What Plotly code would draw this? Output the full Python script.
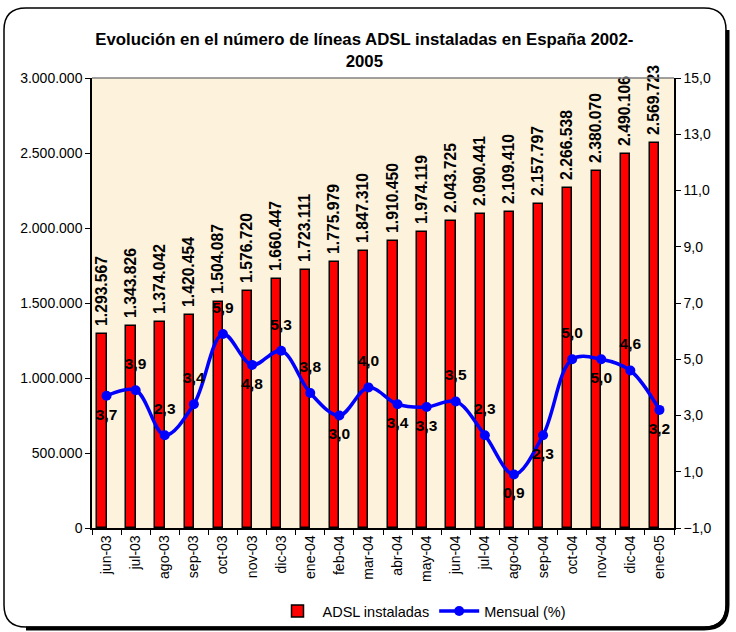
import plotly.graph_objects as go

# ---- data ----
meses = ["jun-03", "jul-03", "ago-03", "sep-03", "oct-03", "nov-03", "dic-03",
         "ene-04", "feb-04", "mar-04", "abr-04", "may-04", "jun-04", "jul-04",
         "ago-04", "sep-04", "oct-04", "nov-04", "dic-04", "ene-05"]
adsl_instaladas = [1293567, 1343826, 1374042, 1420454, 1504087, 1576720, 1660447,
                   1723111, 1775979, 1847310, 1910450, 1974119, 2043725, 2090441,
                   2109410, 2157797, 2266538, 2380070, 2490106, 2569723]
mensual_pct = [3.7, 3.9, 2.3, 3.4, 5.9, 4.8, 5.3, 3.8, 3.0, 4.0, 3.4, 3.3, 3.5, 2.3,
               0.9, 2.3, 5.0, 5.0, 4.6, 3.2]
posicion_etiqueta = ["bottom center", "top center", "top center", "top center", "top center",
                     "bottom center", "top center", "top center", "bottom center", "top center",
                     "bottom center", "bottom center", "top center", "top center", "bottom center",
                     "bottom center", "top center", "bottom center", "top center", "bottom center"]
left_ticks = [0, 500000, 1000000, 1500000, 2000000, 2500000, 3000000]
right_ticks = [-1, 1, 3, 5, 7, 9, 11, 13, 15]

W, H = 736, 632
L, R, T, B = 92, 62, 78, 104
PW, PH = W - L - R, H - T - B
FONT = "Arial, Liberation Sans, sans-serif"


def px(x):
    return (x - L) / PW


def py(y):
    return (H - B - y) / PH


fig = go.Figure()

fig.add_trace(go.Bar(
    x=meses, y=adsl_instaladas, name="ADSL instaladas",
    marker=dict(color="#FF0000", line=dict(color="black", width=1.5)),
    width=0.32, offset=-0.32,
    texttemplate="\u00a0%{y:,.0f}", textposition="outside", textangle=-90,
    constraintext="none", cliponaxis=False,
    textfont=dict(family=FONT, size=15.7, color="black", weight="bold"),
    yaxis="y",
))

fig.add_trace(go.Scatter(
    x=meses, y=mensual_pct, name="Mensual (%)", yaxis="y2",
    mode="lines+markers",
    line=dict(color="#0000FF", width=3.5, shape="spline", smoothing=1.0),
    marker=dict(color="#0000FF", size=10),
    cliponaxis=False,
))

# labels of the line (invisible markers to push text away from the points)
label_sizes = [26 if p.startswith("top") else 18 for p in posicion_etiqueta]
fig.add_trace(go.Scatter(
    x=meses, y=mensual_pct, yaxis="y2", mode="markers+text", showlegend=False,
    marker=dict(color="#0000FF", size=label_sizes, opacity=0, line=dict(width=0)),
    texttemplate="%{y:.1f}", textposition=posicion_etiqueta, cliponaxis=False,
    textfont=dict(family=FONT, size=15.5, color="black", weight="bold"),
    hoverinfo="skip",
))


def rounded(x0, y0, x1, y1, r):
    return (f"M {px(x0 + r)} {py(y0)} L {px(x1 - r)} {py(y0)} "
            f"Q {px(x1)} {py(y0)} {px(x1)} {py(y0 + r)} "
            f"L {px(x1)} {py(y1 - r)} Q {px(x1)} {py(y1)} {px(x1 - r)} {py(y1)} "
            f"L {px(x0 + r)} {py(y1)} Q {px(x0)} {py(y1)} {px(x0)} {py(y1 - r)} "
            f"L {px(x0)} {py(y0 + r)} Q {px(x0)} {py(y0)} {px(x0 + r)} {py(y0)} Z")


def shadow(x0, y0, x1, y1, r, d):
    return (f"M {px(x1 + d)} {py(y0 + r)} L {px(x1 + d)} {py(y1 - r)} "
            f"Q {px(x1 + d)} {py(y1 + d)} {px(x1 - r)} {py(y1 + d)} "
            f"L {px(x0 + r)} {py(y1 + d)}")


shapes = [
    dict(type="path", xref="paper", yref="paper", path=shadow(4, 8, 726, 627, 22, 1.5),
         line=dict(color="black", width=4), layer="below"),
    dict(type="path", xref="paper", yref="paper", path=rounded(4, 8, 726, 627, 22),
         line=dict(color="black", width=1.5), fillcolor="rgba(0,0,0,0)", layer="below"),
    dict(type="line", xref="paper", yref="paper", x0=0, x1=1, y0=1, y1=1,
         line=dict(color="#808080", width=1.5)),
]

fig.update_layout(
    width=W, height=H,
    margin=dict(l=L, r=R, t=T, b=B),
    paper_bgcolor="white",
    plot_bgcolor="#FDF2DB",
    separators=",.",
    font=dict(family=FONT, size=14, color="black"),
    title=dict(text="Evolución en el número de líneas ADSL instaladas en España 2002-<br>2005",
               x=0.495, xanchor="center", y=1 - 45 / H, yanchor="middle", yref="container",
               font=dict(family=FONT, size=16.8, color="black", weight="bold")),
    showlegend=True,
    legend=dict(orientation="h", x=px(422), xanchor="center", y=1 - 611 / H, yanchor="middle",
                yref="container", font=dict(family=FONT, size=14.5, color="black"),
                bgcolor="rgba(0,0,0,0)", itemwidth=40, traceorder="normal"),
    bargap=0.0,
    xaxis=dict(type="category", tickangle=-90, ticks="outside", ticklen=5,
               tickson="boundaries", tickcolor="black", showline=True, linecolor="black",
               linewidth=1.5, showgrid=False, tickfont=dict(size=14, family=FONT),
               range=[-0.5, len(meses) - 0.5]),
    yaxis=dict(range=[0, 3000000], tickvals=left_ticks, tickformat=",.0f",
               ticks="outside", ticklen=5, tickcolor="black", showline=True,
               linecolor="black", linewidth=1.5, showgrid=False, zeroline=False,
               tickfont=dict(size=14, family=FONT)),
    yaxis2=dict(range=[-1, 15], tickvals=right_ticks, tickformat=".1f", overlaying="y",
                side="right", ticks="outside", ticklen=5, tickcolor="black", showline=True,
                linecolor="black", linewidth=1.5, showgrid=False, zeroline=False,
                tickfont=dict(size=14, family=FONT)),
    shapes=shapes,
)

fig.write_html("out.html", config={"displayModeBar": False},
               post_script="document.body.style.margin='0';")
